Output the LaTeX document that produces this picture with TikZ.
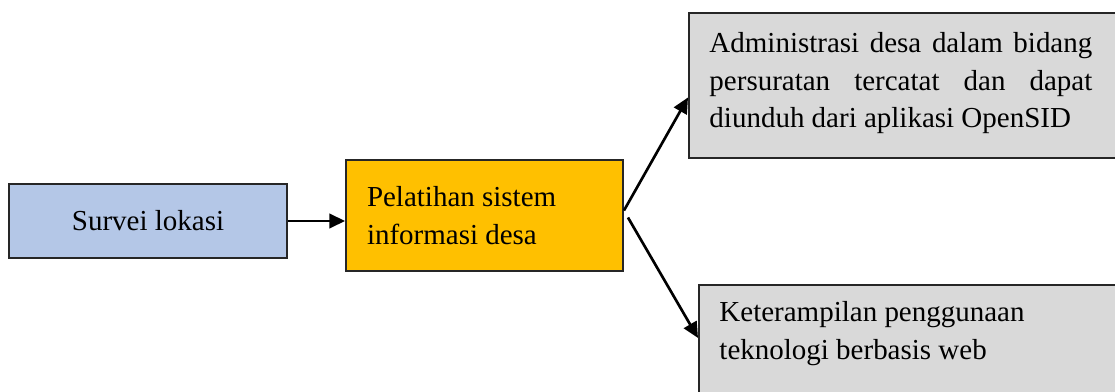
\documentclass[tikz,border=0pt]{standalone}
\usepackage{fontspec}
\setmainfont{Liberation Serif}
\usetikzlibrary{
  arrows.meta,
  positioning
}
\definecolor{biruMuda}{HTML}{B4C7E7}
\definecolor{kuning}{HTML}{FFC000}
\definecolor{abuAbu}{HTML}{D9D9D9}
\newcommand\pxl{0.414pt}
\newlength\lebarTeks
\setlength\lebarTeks{158.5pt}
\newcommand\barisRata[1]{\makebox[\lebarTeks][s]{#1}}

\begin{document}
\begin{tikzpicture}[
  x=0.414pt, y=-0.414pt,
  every node/.style = {font=\fontsize{12}{15.6}\selectfont},
  kotak/.style = {shape=rectangle, draw=black!85, line width=0.8pt, inner sep=0pt},
  isi/.style = {inner sep=0pt, anchor=north west},
  panah/.style = {-{Triangle[length=6.5pt,width=6pt]}, line width=1.1pt}]
  \clip (0,0) rectangle (1115,392);
  % kotak utama
  \node[kotak, fill=biruMuda, minimum width=278*\pxl, minimum height=74*\pxl]
    (survei) at (148,221) {Survei lokasi};
  \node[kotak, fill=kuning, minimum width=277*\pxl, minimum height=111*\pxl,
    text width=235*\pxl, align=justify]
    (pelatihan) at (484.5,215.5) {Pelatihan sistem\\informasi desa};
  % kotak hasil
  \node[kotak, fill=abuAbu, minimum width=440*\pxl, minimum height=145*\pxl,
    anchor=north west] (administrasi) at (688,12) {};
  \node[isi, text width=\lebarTeks, align=justify] (administrasiTeks) at (709,32)
    {\barisRata{Administrasi desa dalam bidang}\\
     \barisRata{persuratan tercatat dan dapat}\\
     diunduh dari aplikasi OpenSID};
  \node[kotak, fill=abuAbu, minimum width=440*\pxl, minimum height=145*\pxl,
    anchor=north west] (keterampilan) at (698,284) {};
  \node[isi, text width=\lebarTeks, align=justify] (keterampilanTeks) at (719,301)
    {Keterampilan penggunaan\\teknologi berbasis web};
  % panah
  \draw[panah] (survei.east) -- (survei.east -| pelatihan.west);
  \draw[panah] ([yshift=5*\pxl]pelatihan.east) -- ([yshift=-12*\pxl]administrasi.west);
  \draw[panah] ([xshift=4*\pxl,yshift=-2*\pxl]pelatihan.east) -- ([yshift=-54*\pxl]keterampilan.north west);
\end{tikzpicture}
\end{document}
